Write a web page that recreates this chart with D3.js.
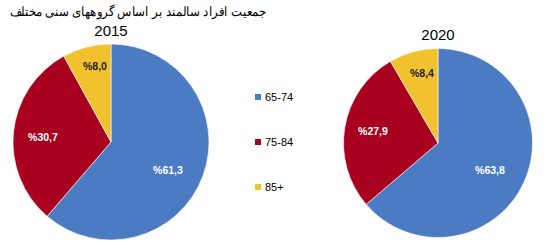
<!DOCTYPE html>
<html><head><meta charset="utf-8">
<script src="https://cdn.jsdelivr.net/npm/d3@7"></script>
<style>body{margin:0;background:#fff}svg{display:block}</style>
</head><body>
<script>
const categories = ["65-74", "75-84", "85+"];
const years = ["2015", "2020"];
const values2015 = [61.3, 30.7, 8.0];
const values2020 = [63.8, 27.9, 8.4];
const labels2015 = ["%61,3", "%30,7", "%8,0"];
const labels2020 = ["%63,8", "%27,9", "%8,4"];
const chartTitle = "جمعیت افراد سالمند بر اساس گروههای سنی مختلف";

const colors = ["#4A7BC3", "#A8001E", "#F2C12E"];
const labelColors = ["#ffffff", "#ffffff", "#222222"];

const W = 558, H = 252;
const svg = d3.select("body").append("svg").attr("width", W).attr("height", H);

const title = svg.append("text").attr("x", 138).attr("y", 16).attr("text-anchor", "middle")
  .attr("font-family", "Arial, 'Liberation Sans', sans-serif").attr("font-size", 13)
  .attr("fill", "#000")
  .text(chartTitle);
// fit title to the reference span (x 10..267)
const bb = title.node().getBBox();
if (bb.width > 257) title.attr("textLength", 257).attr("lengthAdjust", "spacingAndGlyphs");

const pies = [
  {year: years[0], values: values2015, labels: labels2015, cx: 111, cy: 142, r: 98, ty: 36,
   lpos: [[168,170],[43,137],[95,66]]},
  {year: years[1], values: values2020, labels: labels2020, cx: 438, cy: 143, r: 94.5, ty: 40,
   lpos: [[490,170],[373,131],[422,73]]}
];

const pieGen = d3.pie().sort(null).value(d => d);
pies.forEach(p => {
  const g = svg.append("g").attr("transform", `translate(${p.cx},${p.cy})`);
  const arc = d3.arc().innerRadius(0).outerRadius(p.r);
  const arcs = pieGen(p.values);
  g.selectAll("path").data(arcs).join("path")
    .attr("d", arc).attr("fill", (d, i) => colors[i])
    .attr("stroke", "#fff").attr("stroke-width", 0.6);
  svg.selectAll(null).data(arcs).join("text")
    .attr("x", (d, i) => p.lpos[i][0]).attr("y", (d, i) => p.lpos[i][1] + 4)
    .attr("text-anchor", "middle")
    .attr("font-family", "Arial, 'Liberation Sans', sans-serif").attr("font-size", 10.5)
    .attr("font-weight", "bold").attr("fill", (d, i) => labelColors[i])
    .text((d, i) => p.labels[i]);
  svg.append("text").attr("x", p.cx).attr("y", p.ty).attr("text-anchor", "middle")
    .attr("font-family", "Arial, 'Liberation Sans', sans-serif").attr("font-size", 15)
    .attr("fill", "#000").text(p.year);
});

const legendY = d3.scalePoint().domain(categories).range([97, 187]);
const lg = svg.append("g");
categories.forEach((c, i) => {
  lg.append("rect").attr("x", 255).attr("y", legendY(c) - 3).attr("width", 6).attr("height", 6)
    .attr("fill", colors[i]);
  lg.append("text").attr("x", 265).attr("y", legendY(c) + 4)
    .attr("font-family", "Arial, 'Liberation Sans', sans-serif").attr("font-size", 11)
    .attr("fill", "#000").text(c);
});
</script>
</body></html>
